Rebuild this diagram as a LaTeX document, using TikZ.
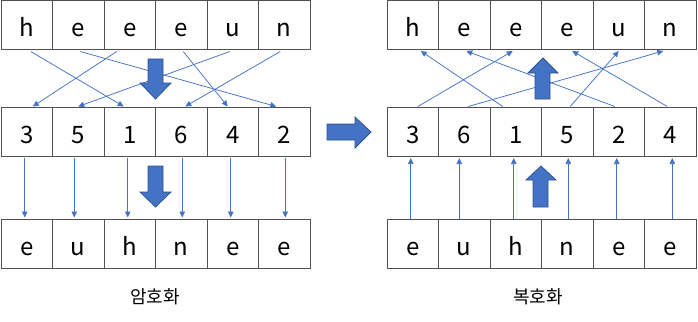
\documentclass[tikz,border=0pt]{standalone}
\usepackage{fontspec}
\setmainfont{Noto Sans CJK KR}
\usetikzlibrary{arrows.meta,calc}
\definecolor{ablue}{HTML}{4472C4}
\definecolor{aedge}{HTML}{2F528F}
\definecolor{cellgray}{HTML}{505050}
\begin{document}
\begin{tikzpicture}[x=1pt,y=-1pt,
 cell/.style={draw=cellgray, line width=1pt, minimum width=51.5pt, minimum height=49pt, inner sep=0pt,
   text height=24pt, text depth=0pt, font=\fontsize{24}{26}\selectfont, anchor=center},
 thinarrow/.style={draw=ablue, line width=0.75pt, -{Triangle[length=6pt,width=5.5pt]}},
 bigarrow/.style={fill=ablue, draw=aedge, line width=0.75pt},
 caption/.style={font=\fontsize{18}{20}\selectfont, inner sep=0pt}]
\useasboundingbox (0,0) rectangle (698,321);

% left block
\foreach \t [count=\i] in {h,e,e,e,u,n} \node[cell] (LT\i) at ({1+51.5*(\i-0.5)},25) {\t};
\foreach \t [count=\i] in {3,5,1,6,4,2} \node[cell] (LM\i) at ({1+51.5*(\i-0.5)},131.5) {\t};
\foreach \t [count=\i] in {e,u,h,n,e,e} \node[cell] (LB\i) at ({1+51.5*(\i-0.5)},243.5) {\t};

% right block
\foreach \t [count=\i] in {h,e,e,e,u,n} \node[cell] (RT\i) at ({387+51.5*(\i-0.5)},25) {\t};
\foreach \t [count=\i] in {3,6,1,5,2,4} \node[cell] (RM\i) at ({387+51.5*(\i-0.5)},131.5) {\t};
\foreach \t [count=\i] in {e,u,h,n,e,e} \node[cell] (RB\i) at ({387+51.5*(\i-0.5)},243.5) {\t};

% left: top -> middle
\draw[thinarrow] ($(LT1.south)+(4,1.5)$) -- ($(LM3.north)+(-6,0)$);
\draw[thinarrow] ($(LT2.south)+(2,1.5)$) -- ($(LM6.north)+(-8,0)$);
\draw[thinarrow] ($(LT3.south)+(-13,1.5)$) -- ($(LM1.north)+(6,0)$);
\draw[thinarrow] ($(LT4.south)+(2,1.5)$) -- ($(LM5.north)+(-5,0)$);
\draw[thinarrow] ($(LT5.south)+(-3,1.5)$) -- ($(LM2.north)+(0,0)$);
\draw[thinarrow] ($(LT6.south)+(-4,1.5)$) -- ($(LM4.north)+(4,0)$);

% left: middle -> bottom
\foreach \i/\d in {1/-2,2/-4,3/-2,4/1,5/-2,6/1}
  \draw[thinarrow] ($(LM\i.south)+(\d,1.5)$) -- ($(LB\i.north)+(\d,-1)$);

% right: middle -> top
\draw[thinarrow] ($(RM1.north)+(5,0)$) -- ($(RT3.south)+(-3,1)$);
\draw[thinarrow] ($(RM2.north)+(4,0)$) -- ($(RT6.south)+(-7,1)$);
\draw[thinarrow] ($(RM3.north)+(-13,0)$) -- ($(RT1.south)+(8,1)$);
\draw[thinarrow] ($(RM4.north)+(3,0)$) -- ($(RT5.south)+(0,1)$);
\draw[thinarrow] ($(RM5.north)+(-4,0)$) -- ($(RT2.south)+(2,1)$);
\draw[thinarrow] ($(RM6.north)+(-3,0)$) -- ($(RT4.south)+(5,1)$);

% right: bottom -> middle
\foreach \i/\d in {1/-2,2/-5,3/-2,4/1,5/-2,6/2}
  \draw[thinarrow] ($(RB\i.north)+(\d,0)$) -- ($(RM\i.south)+(\d,1.5)$);

% big block arrows
\draw[bigarrow] (148,59) -- (163,59) -- (163,83) -- (171,83) -- (155.5,99) -- (140,83) -- (148,83) -- cycle;
\draw[bigarrow] (148,166) -- (163,166) -- (163,192) -- (171,192) -- (155.5,207) -- (140,192) -- (148,192) -- cycle;
\draw[bigarrow] (327,124) -- (355,124) -- (355,117) -- (371,132) -- (355,148) -- (355,140) -- (327,140) -- cycle;
\draw[bigarrow] (535,99) -- (550,99) -- (550,73) -- (558,73) -- (543,58) -- (528,73) -- (535,73) -- cycle;
\draw[bigarrow] (533,207) -- (548,207) -- (548,180) -- (556,180) -- (541,166) -- (526,180) -- (533,180) -- cycle;

% captions
\node[caption] (enc) at (155,297) {암호화};
\node[caption] (dec) at (538,297) {복호화};
\end{tikzpicture}
\end{document}
